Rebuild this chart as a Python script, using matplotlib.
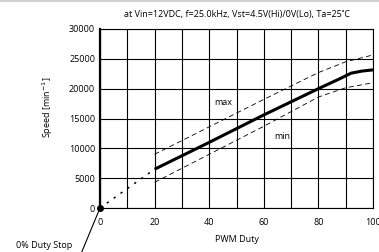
import matplotlib
matplotlib.use('Agg')
import matplotlib.pyplot as plt
from matplotlib.lines import Line2D

plt.rcParams['font.family'] = ['Open Sans', 'DejaVu Sans']
plt.rcParams['font.size'] = 6.5

# typical curve
duty_typ = [20, 40, 60, 80, 88, 92, 96, 100]
speed_typ = [6500, 11000, 15600, 20000, 21700, 22600, 22950, 23150]
# max / min curves
duty_max = [20, 40, 60, 80, 90, 100]
speed_max = [9000, 13600, 18200, 22700, 24500, 25650]
duty_min = [20, 40, 60, 80, 90, 100]
speed_min = [4300, 9000, 13700, 18600, 20150, 21000]
# extrapolated part below 20 %
duty_ext = [0, 20]
speed_ext = [0, 6500]

xticks = [0, 20, 40, 60, 80, 100]
yticks = [0, 5000, 10000, 15000, 20000, 25000, 30000]

fig = plt.figure(figsize=(3.79, 2.52), dpi=100)
ax = fig.add_axes([100/379, 1 - 208/252, 273/379, 179/252])

ax.set_xlim(0, 100)
ax.set_ylim(0, 30000)
ax.set_xticks(xticks)
ax.set_xticks(range(10, 100, 20), minor=True)
ax.set_yticks(yticks)
ax.grid(True, which='both', color='black', lw=0.8)
ax.tick_params(which='both', length=0)
ax.tick_params(axis='x', pad=7)
ax.tick_params(axis='y', pad=3.5)
for s in ax.spines.values():
    s.set_linewidth(0.8)
ax.spines['left'].set_linewidth(1.6)

ax.plot(duty_typ, speed_typ, color='black', lw=2.2, solid_capstyle='butt')
ax.plot(duty_max, speed_max, color='black', lw=0.6, ls=(0, (6, 4)))
ax.plot(duty_min, speed_min, color='black', lw=0.6, ls=(0, (6, 4)))
ax.plot(duty_ext, speed_ext, color='black', lw=1.1, ls=(0, (1.5, 4)))
ax.plot([0], [0], 'o', color='black', ms=4, clip_on=False, zorder=5)

ax.text(45, 17600, 'max', ha='center', va='center')
ax.text(66.7, 11900, 'min', ha='center', va='center')

ax.set_xlabel('PWM Duty', labelpad=6)
ax.set_ylabel('Speed [min$^{-1}$]')
ax.yaxis.set_label_coords(-0.165, 0.56)

fig.text(237/379, 1 - 15/252,
         'at Vin=12VDC, f=25.0kHz, Vst=4.5V(Hi)/0V(Lo), Ta=25\u02daC',
         ha='center', va='center')

ax.annotate('', xy=(0, 0), xycoords='data', xytext=(78, -9),
            textcoords='figure pixels', annotation_clip=False,
            arrowprops=dict(arrowstyle='-', lw=0.8, color='black',
                            shrinkA=0, shrinkB=0))
fig.text(16/379, (252 - 245.8)/252, '0% Duty Stop', ha='left', va='center')

fig.add_artist(Line2D([0, 1], [1 - 1/252, 1 - 1/252], transform=fig.transFigure,
                      color='#d0d0d0', lw=1.5))

fig.savefig('out.png', dpi=100)
